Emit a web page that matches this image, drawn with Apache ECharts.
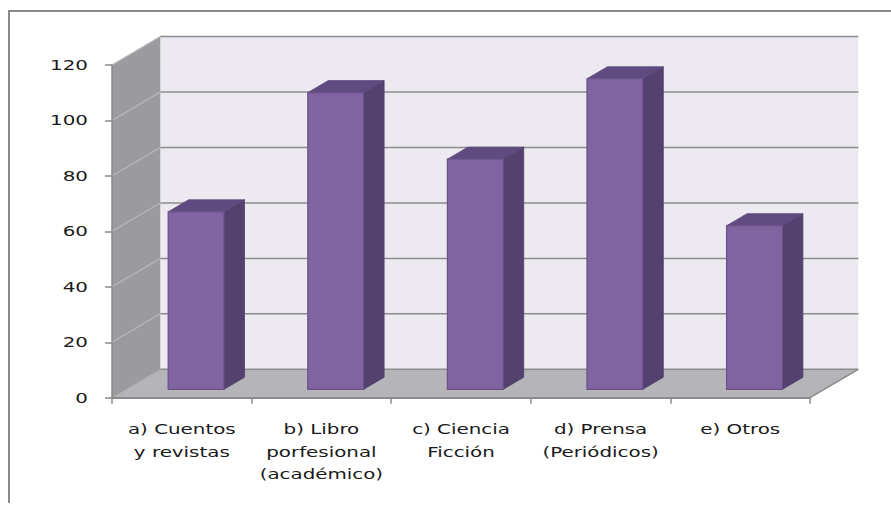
<!DOCTYPE html>
<html>
<head>
<meta charset="utf-8">
<script src="https://cdn.jsdelivr.net/npm/echarts@6/dist/echarts.min.js"></script>
<style>
html,body{margin:0;padding:0;background:#fff;}
#c{width:891px;height:506px;}
</style>
</head>
<body>
<div id="c"></div>
<script>
// ---- data ----
const categories = ['a) Cuentos\ny revistas', 'b) Libro\nporfesional\n(académico)', 'c) Ciencia\nFicción', 'd) Prensa\n(Periódicos)', 'e) Otros'];
const values = [64, 107, 83, 112, 59];
const yTicks = [0, 20, 40, 60, 80, 100, 120];

// ---- styling constants ----
const DX = 48.3, DY = -28.4;          // depth offset of back wall
const F1 = 0.296, F2 = 0.72;          // bar front / back depth fractions
const BAR_W = 0.4;                    // bar width as fraction of band
const FONT = '14.5px "DejaVu Sans"';
const SX = 1.37;                      // horizontal stretch of text

const chart = echarts.init(document.getElementById('c'), null, {renderer: 'svg'});

function wallsRender(params, api) {
  const cs = params.coordSys;
  const L = cs.x, R = cs.x + cs.width, T = cs.y, B = cs.y + cs.height;
  const ch = [];
  ch.push({type: 'rect', shape: {x: L + DX, y: T + DY, width: R - L, height: B - T},
           style: {fill: '#ECEAF0'}});
  ch.push({type: 'polygon', shape: {points: [[L, T], [L + DX, T + DY], [L + DX, B + DY], [L, B]]},
           style: {fill: '#9B9A9E'}});
  ch.push({type: 'polygon', shape: {points: [[L, B], [L + DX, B + DY], [R + DX, B + DY], [R, B]]},
           style: {fill: '#B5B4B8'}});
  yTicks.forEach(function (v) {
    const y = api.coord([0, v])[1];
    ch.push({type: 'line', shape: {x1: L + DX, y1: y + DY, x2: R + DX, y2: y + DY},
             style: {stroke: '#8C8C8C', lineWidth: 1.5}});
    ch.push({type: 'line', shape: {x1: L, y1: y, x2: L + DX, y2: y + DY},
             style: {stroke: v === 0 ? '#A8A8AA' : '#B8B8BA', lineWidth: 1.2}});
  });
  ch.push({type: 'line', shape: {x1: R, y1: B, x2: R + DX, y2: B + DY},
           style: {stroke: '#8A8A8A', lineWidth: 1.5}});
  return {type: 'group', children: ch};
}

function barRender(params, api) {
  const i = api.value(0), v = api.value(1);
  const c0 = api.coord([i, 0]), c1 = api.coord([i, v]);
  const bw = api.size([1, 0])[0] * BAR_W;
  const x0 = c0[0] - bw / 2 + F1 * DX;
  const yb = c0[1] + F1 * DY;
  const yt = c1[1] + F1 * DY;
  const ddx = (F2 - F1) * DX, ddy = (F2 - F1) * DY;
  return {type: 'group', children: [
    {type: 'polygon', shape: {points: [[x0 + bw, yt], [x0 + bw + ddx, yt + ddy], [x0 + bw + ddx, yb + ddy], [x0 + bw, yb]]},
     style: {fill: '#53416E', stroke: '#4E3D68', lineWidth: 0.8}},
    {type: 'polygon', shape: {points: [[x0, yt], [x0 + ddx, yt + ddy], [x0 + bw + ddx, yt + ddy], [x0 + bw, yt]]},
     style: {fill: '#604B80', stroke: '#5A4779', lineWidth: 0.8}},
    {type: 'rect', shape: {x: x0, y: yt, width: bw, height: yb - yt},
     style: {fill: '#8064A2', stroke: '#6A5189', lineWidth: 1.2}}
  ]};
}

function catLabelRender(params, api) {
  const i = api.value(0);
  const cs = params.coordSys;
  const x = api.coord([i, 0])[0];
  return {type: 'text', x: x, y: cs.y + cs.height + 20.5, scaleX: SX,
          style: {text: categories[i], x: 0, y: 0, fill: '#1A1A1A', font: FONT,
                  align: 'center', verticalAlign: 'top', lineHeight: 22.5}};
}

function yLabelRender(params, api) {
  const v = api.value(1);
  const cs = params.coordSys;
  const y = api.coord([0, v])[1];
  return {type: 'text', x: cs.x - 24, y: y, scaleX: SX,
          style: {text: String(v), x: 0, y: 0, fill: '#1A1A1A', font: FONT,
                  align: 'right', verticalAlign: 'middle'}};
}

chart.setOption({
  animation: false,
  backgroundColor: '#FFFFFF',
  grid: {left: 112, right: 81, top: 65, bottom: 108.3},
  xAxis: {
    type: 'category', data: categories, z: 10,
    axisLine: {show: true, lineStyle: {color: '#8A8A8A', width: 2}},
    axisTick: {show: true, length: 6, lineStyle: {color: '#8A8A8A', width: 1.5}},
    axisLabel: {show: false}, splitLine: {show: false}
  },
  yAxis: {
    type: 'value', min: 0, max: 120, interval: 20, z: 10,
    axisLine: {show: true, lineStyle: {color: '#8A8A8A', width: 1.5}},
    axisTick: {show: true, length: 7, lineStyle: {color: '#8A8A8A', width: 1.5}},
    axisLabel: {show: false}, splitLine: {show: false}
  },
  graphic: [{type: 'polyline', silent: true, z: 0,
             shape: {points: [[9, 503], [9, 11], [891, 11]]},
             style: {stroke: '#8A8A8A', lineWidth: 2, fill: null}}],
  series: [
    {type: 'custom', name: 'walls', z: 1, silent: true, data: [[0, 0]], renderItem: wallsRender},
    {type: 'custom', name: 'Serie', z: 3, data: values.map(function (v, i) { return [i, v]; }), renderItem: barRender},
    {type: 'custom', name: 'catLabels', z: 4, silent: true, data: categories.map(function (c, i) { return [i, 0]; }), renderItem: catLabelRender},
    {type: 'custom', name: 'yLabels', z: 4, silent: true, data: yTicks.map(function (v) { return [0, v]; }), renderItem: yLabelRender}
  ]
});
</script>
</body>
</html>
